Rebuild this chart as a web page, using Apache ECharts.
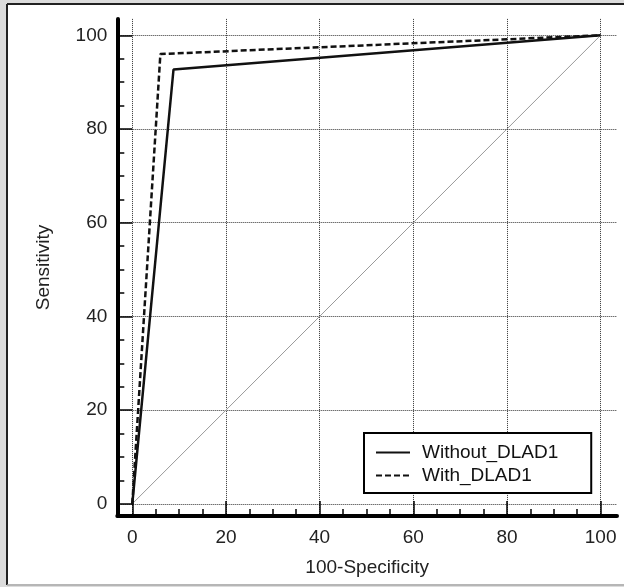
<!DOCTYPE html>
<html>
<head>
<meta charset="utf-8">
<script src="https://cdn.jsdelivr.net/npm/echarts@6/dist/echarts.min.js"></script>
<style>html,body{margin:0;padding:0;background:#dcdcdc;}#c{width:624px;height:587px;}</style>
</head>
<body>
<div id="c"></div>
<script>
const majorTicks = [0, 20, 40, 60, 80, 100];
const minorTicks = [5, 10, 15, 25, 30, 35, 45, 50, 55, 65, 70, 75, 85, 90, 95];
const withoutX = [0, 8.8, 100];
const withoutY = [0, 92.7, 100];
const withX = [0, 6.0, 100];
const withY = [0, 96.0, 100];
const diagX = [0, 100];
const diagY = [0, 100];

const pair = (xs, ys) => xs.map((x, i) => [x, ys[i]]);
const font = 'Liberation Sans, Arial, sans-serif';

const chart = echarts.init(document.getElementById('c'), null, {renderer: 'canvas'});

function mainAxis(isX) {
  return {
    type: 'value',
    min: isX ? -3.2 : -2.6,
    max: 103.5,
    name: isX ? '100-Specificity' : 'Sensitivity',
    nameLocation: 'middle',
    nameGap: isX ? 42 : 64,
    nameTextStyle: {fontFamily: font, fontSize: 19, color: '#222'},
    axisLine: {show: true, onZero: false, lineStyle: {color: '#000', width: 4}},
    axisTick: {show: true, inside: true, length: 15, customValues: majorTicks, lineStyle: {color: '#000', width: 1.5}},
    axisLabel: {show: true, customValues: majorTicks, margin: isX ? 12 : 10, fontFamily: font, fontSize: 19, color: '#222'},
    splitLine: {show: true, lineStyle: {color: '#333', width: 1, type: 'dotted'}},
    minorTick: {show: false}
  };
}
function minorAxis(isX) {
  return {
    type: 'value',
    min: isX ? -3.2 : -2.6,
    max: 103.5,
    position: isX ? 'bottom' : 'left',
    axisLine: {show: false, onZero: false},
    axisTick: {show: true, inside: true, length: 7, customValues: minorTicks, lineStyle: {color: '#000', width: 1.5}},
    axisLabel: {show: false},
    splitLine: {show: false}
  };
}

chart.setOption({
  animation: false,
  backgroundColor: '#dcdcdc',
  graphic: [
    {type: 'rect', shape: {x: 8, y: 5, width: 620, height: 579}, style: {fill: '#fff'}, z: -10},
    {type: 'line', shape: {x1: 7, y1: 4, x2: 7, y2: 585}, style: {stroke: '#222', lineWidth: 2}, z: -9},
    {type: 'line', shape: {x1: 7, y1: 4, x2: 624, y2: 4}, style: {stroke: '#222', lineWidth: 2}, z: -9},
    {type: 'line', shape: {x1: 7, y1: 585, x2: 624, y2: 585}, style: {stroke: '#aaa', lineWidth: 1.5}, z: -9}
  ],
  grid: {left: 117.3, top: 18.9, width: 499.7, height: 497.1, containLabel: false},
  xAxis: [mainAxis(true), minorAxis(true)],
  yAxis: [mainAxis(false), minorAxis(false)],
  legend: {
    left: 364, top: 433, orient: 'vertical',
    backgroundColor: '#fff',
    borderColor: '#000', borderWidth: 2, borderRadius: 0,
    padding: [10, 33, 8, 11],
    itemWidth: 34, itemHeight: 14, itemGap: 4,
    itemStyle: {opacity: 0},
    textStyle: {fontFamily: font, fontSize: 19, color: '#111', padding: [0, 0, 0, 7]},
    data: ['Without_DLAD1', 'With_DLAD1']
  },
  series: [
    {name: 'diag', type: 'line', data: pair(diagX, diagY), symbol: 'none', silent: true,
     lineStyle: {color: '#9a9a9a', width: 1}, z: 2},
    {name: 'Without_DLAD1', type: 'line', data: pair(withoutX, withoutY), symbol: 'none',
     lineStyle: {color: '#111', width: 2.5, type: 'solid'}, itemStyle: {color: '#111'}, z: 3},
    {name: 'With_DLAD1', type: 'line', data: pair(withX, withY), symbol: 'none',
     lineStyle: {color: '#111', width: 2.5, type: [6, 3]}, itemStyle: {color: '#111'}, z: 3}
  ]
});
</script>
</body>
</html>
